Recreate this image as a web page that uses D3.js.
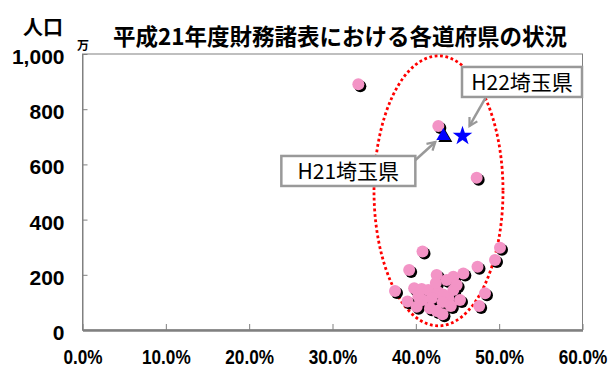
<!DOCTYPE html>
<html>
<head>
<meta charset="utf-8">
<script src="https://cdn.jsdelivr.net/npm/d3@7/dist/d3.min.js"></script>
<style>
  html, body { margin: 0; padding: 0; background: #fff; }
  svg { display: block; }
</style>
</head>
<body>
<svg id="chart" width="611" height="369"></svg>
<script>
// 財務指標（横軸, %）と人口（縦軸, 万人）: 各道府県
const prefRatio = [0.331, 0.427, 0.473, 0.408, 0.501, 0.495, 0.474, 0.392, 0.425, 0.437,
  0.445, 0.457, 0.375, 0.398, 0.407, 0.415, 0.427, 0.445, 0.453, 0.483,
  0.390, 0.401, 0.419, 0.439, 0.417, 0.425, 0.432, 0.476, 0.433, 0.408,
  0.424, 0.449, 0.432, 0.403, 0.442];
const prefPop = [890, 739, 552, 284, 298, 254, 229, 217, 199, 181,
  193, 205, 141, 151, 149, 145, 137, 145, 109, 133,
  103, 84, 115, 115, 79, 69, 57, 87, 129, 109,
  170, 163, 101, 123, 87];

// 埼玉県: H21（三角）と H22（星）
const saitamaH21 = { ratio: 0.433, pop: 703, label: "H21埼玉県" };
const saitamaH22 = { ratio: 0.456, pop: 703, label: "H22埼玉県" };

const xTicks = [0, 0.1, 0.2, 0.3, 0.4, 0.5, 0.6];
const yTicks = [0, 200, 400, 600, 800, 1000];

const titleText = "平成21年度財務諸表における各道府県の状況";
const yTitle = "人口";
const yUnit = "万";

const svg = d3.select("#chart");
const x = d3.scaleLinear().domain([0, 0.6]).range([82.5, 582.5]);
const y = d3.scaleLinear().domain([0, 1000]).range([330, 54]);

const latin = "'Liberation Sans', Arial, sans-serif";
const cjk = "'Noto Sans CJK JP', 'Noto Sans', sans-serif";

// arrow head for the callouts
svg.append("defs").append("marker")
  .attr("id", "arrowHead")
  .attr("viewBox", "0 0 10 10")
  .attr("refX", 8).attr("refY", 5)
  .attr("markerWidth", 4.5).attr("markerHeight", 4.5)
  .attr("orient", "auto")
  .append("path")
  .attr("d", "M1,1 L8,5 L1,9")
  .attr("fill", "none")
  .attr("stroke", "#999")
  .attr("stroke-width", 2);

// plot frame
svg.append("rect")
  .attr("x", x(0)).attr("y", y(1000))
  .attr("width", x(0.6) - x(0)).attr("height", y(0) - y(1000))
  .attr("fill", "#fff").attr("stroke", "#808080").attr("stroke-width", 1);

// x axis (ticks inside)
const xAxis = svg.append("g")
  .attr("transform", `translate(0,${y(0)})`)
  .call(d3.axisBottom(x).tickValues(xTicks).tickFormat(d3.format(".1%")).tickSize(-6).tickSizeOuter(0));
xAxis.select(".domain").attr("stroke", "#808080").attr("stroke-width", 2.5);
xAxis.selectAll(".tick line").attr("stroke", "#808080");
xAxis.selectAll(".tick text")
  .attr("y", 34.5).attr("dy", null)
  .attr("transform", "scale(0.86,1)")
  .attr("fill", "#000")
  .style("font-family", latin).style("font-size", "20px").style("font-weight", "bold");

// y axis (ticks inside)
const yAxis = svg.append("g")
  .attr("transform", `translate(${x(0)},0)`)
  .call(d3.axisLeft(y).tickValues(yTicks).tickFormat(d3.format(",")).tickSize(-5).tickSizeOuter(0));
yAxis.select(".domain").attr("stroke", "#808080").attr("stroke-width", 1);
yAxis.selectAll(".tick line").attr("stroke", "#808080");
yAxis.selectAll(".tick text")
  .attr("x", -18).attr("dy", "0.45em")
  .attr("fill", "#000")
  .style("font-family", latin).style("font-size", "21px").style("font-weight", "bold");

// dotted ellipse around the main group
const ringCenter = { ratio: 0.4272, pop: 504 };
const ringHalf = { ratio: 0.0774, pop: 489 };
svg.append("ellipse")
  .attr("cx", x(ringCenter.ratio)).attr("cy", y(ringCenter.pop))
  .attr("rx", x(ringHalf.ratio) - x(0)).attr("ry", y(0) - y(ringHalf.pop))
  .attr("fill", "none")
  .attr("stroke", "#ff0000")
  .attr("stroke-width", 2.8)
  .attr("stroke-dasharray", "2.8 2.6");

// prefecture points with drop shadow
const prefs = prefRatio.map((r, i) => ({ ratio: r, pop: prefPop[i] }));
const dots = svg.append("g");
dots.selectAll("circle.shadow").data(prefs).join("circle")
  .attr("class", "shadow")
  .attr("cx", d => x(d.ratio) + 2).attr("cy", d => y(d.pop) + 2)
  .attr("r", 6).attr("fill", "#000");
dots.selectAll("circle.dot").data(prefs).join("circle")
  .attr("class", "dot")
  .attr("cx", d => x(d.ratio)).attr("cy", d => y(d.pop))
  .attr("r", 6).attr("fill", "#f394c6");

// Saitama H21 triangle
const tri = d3.symbol().type(d3.symbolTriangle).size(85)();
svg.append("path").attr("d", tri)
  .attr("transform", `translate(${x(saitamaH21.ratio) + 2},${y(saitamaH21.pop) + 2})`)
  .attr("fill", "#000");
svg.append("path").attr("d", tri)
  .attr("transform", `translate(${x(saitamaH21.ratio)},${y(saitamaH21.pop)})`)
  .attr("fill", "#0000ff");

// Saitama H22 star
svg.append("path")
  .attr("d", d3.symbol().type(d3.symbolStar).size(120)())
  .attr("transform", `translate(${x(saitamaH22.ratio)},${y(saitamaH22.pop)})`)
  .attr("fill", "#0000ff");

// callout boxes
function callout(pt, bx, by, bw, bh, ax, ay, tx, ty) {
  const px = x(pt.ratio), py = y(pt.pop);
  svg.append("line")
    .attr("x1", px + ax[0]).attr("y1", py + ax[1])
    .attr("x2", px + tx).attr("y2", py + ty)
    .attr("stroke", "#999").attr("stroke-width", 2.5)
    .attr("marker-end", "url(#arrowHead)");
  svg.append("rect")
    .attr("x", px + bx).attr("y", py + by)
    .attr("width", bw).attr("height", bh)
    .attr("fill", "#fff").attr("stroke", "#999").attr("stroke-width", 2.5);
  svg.append("text")
    .attr("x", px + bx + bw / 2).attr("y", py + by + bh / 2 + 8)
    .attr("text-anchor", "middle")
    .style("font-family", cjk).style("font-size", "21px")
    .text(pt.label);
}
callout(saitamaH22, -0.5, -69, 120, 30, [23, -38], 0, 7, -10);
callout(saitamaH21, -162, 20, 134, 30, [-29, 25], 0, -8, 6);

// titles
svg.append("text")
  .attr("x", 113).attr("y", 45)
  .style("font-family", cjk).style("font-size", "22.5px").style("font-weight", "bold")
  .text(titleText);
svg.append("text")
  .attr("x", 23).attr("y", 35)
  .style("font-family", cjk).style("font-size", "20px").style("font-weight", "bold")
  .text(yTitle);
svg.append("text")
  .attr("x", 77).attr("y", 50)
  .style("font-family", cjk).style("font-size", "12px").style("font-weight", "bold")
  .text(yUnit);
</script>
</body>
</html>
